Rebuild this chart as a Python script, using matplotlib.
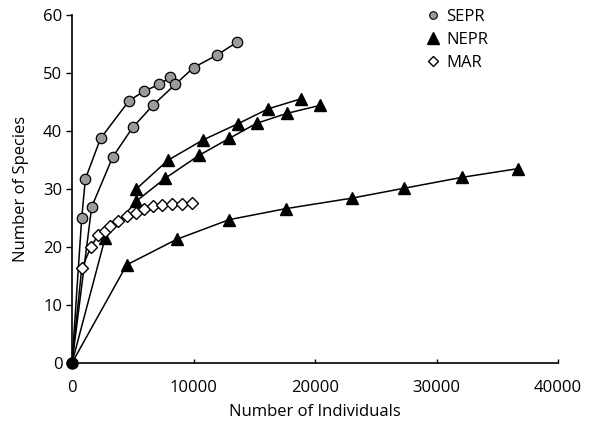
import matplotlib
matplotlib.use("Agg")
import matplotlib.pyplot as plt
from matplotlib.lines import Line2D

plt.rcParams['font.family'] = ['Open Sans', 'DejaVu Sans']

# Rarefaction curves: number of individuals vs. number of species
sepr_a_x = [0, 800, 1100, 2350, 4700, 5900, 7150, 8100]
sepr_a_y = [0, 25.0, 31.7, 38.7, 45.2, 46.8, 48.0, 49.2]
sepr_b_x = [0, 1620, 3350, 5000, 6700, 8500, 10000, 11960, 13580]
sepr_b_y = [0, 26.9, 35.5, 40.6, 44.5, 48.0, 50.9, 53.1, 55.3]

nepr_a_x = [5300, 7870, 10750, 13630, 16150, 18810]
nepr_a_y = [30.0, 34.9, 38.4, 41.2, 43.8, 45.5]
nepr_b_x = [0, 2720, 5300, 7650, 10470, 12940, 15190, 17660, 20410]
nepr_b_y = [0, 21.5, 27.9, 31.8, 35.8, 38.7, 41.3, 43.0, 44.4]
nepr_c_x = [0, 4500, 8610, 12940, 17610, 23020, 27300, 32130, 36740]
nepr_c_y = [0, 16.9, 21.3, 24.7, 26.6, 28.4, 30.1, 32.0, 33.5]

mar_x = [0, 800, 1540, 2160, 2720, 3130, 3810, 4500, 5240, 5930, 6640,
         7380, 8200, 9020, 9850]
mar_y = [0, 16.3, 19.9, 22.1, 22.7, 23.6, 24.5, 25.4, 25.9, 26.6, 27.0,
         27.2, 27.4, 27.4, 27.5]

x_ticks = [0, 10000, 20000, 30000, 40000]
y_ticks = [0, 10, 20, 30, 40, 50, 60]

fig = plt.figure(figsize=(6, 4.24), dpi=100)
ax = fig.add_axes([0.12, 0.144, 0.81, 0.821])

line_kw = dict(color='black', lw=1.1, clip_on=False)
sepr_kw = dict(marker='o', ms=7.5, mfc='#9a9a9a', mec='black', mew=0.9)
nepr_kw = dict(marker='^', ms=9, mfc='black', mec='black')
mar_kw = dict(marker='D', ms=6, mfc='white', mec='black', mew=1.0)

ax.plot(sepr_a_x[1:], sepr_a_y[1:], ls='none', **sepr_kw, clip_on=False, zorder=4)
ax.plot(sepr_a_x, sepr_a_y, **line_kw, zorder=2)
ax.plot(sepr_b_x[1:], sepr_b_y[1:], ls='none', **sepr_kw, clip_on=False, zorder=4)
ax.plot(sepr_b_x, sepr_b_y, **line_kw, zorder=2)

for xs, ys in [(nepr_a_x, nepr_a_y), (nepr_b_x, nepr_b_y), (nepr_c_x, nepr_c_y)]:
    ax.plot(xs, ys, **line_kw, zorder=2)
    start = 1 if xs[0] == 0 else 0
    ax.plot(xs[start:], ys[start:], ls='none', **nepr_kw, clip_on=False, zorder=3)

ax.plot(mar_x, mar_y, **line_kw, zorder=2)
ax.plot(mar_x[1:], mar_y[1:], ls='none', **mar_kw, clip_on=False, zorder=5)

# shared origin point
ax.plot([0], [0], marker='o', ms=8, color='black', clip_on=False, zorder=6)

ax.set_xlim(0, 40000)
ax.set_ylim(0, 60)
ax.set_xticks(x_ticks)
ax.set_yticks(y_ticks)
ax.spines['top'].set_visible(False)
ax.spines['right'].set_visible(False)
ax.spines['left'].set_linewidth(1.2)
ax.spines['bottom'].set_linewidth(1.2)
ax.tick_params(axis='y', direction='out', length=4, width=1, labelsize=12, pad=3)
ax.tick_params(axis='x', direction='in', length=3, width=1, labelsize=12, pad=12)
ax.set_xlabel('Number of Individuals', fontsize=12, labelpad=6)
ax.set_ylabel('Number of Species', fontsize=12, labelpad=10)

handles = [
    Line2D([], [], ls='none', marker='o', ms=5.5, mfc='#9a9a9a', mec='black', mew=0.8),
    Line2D([], [], ls='none', marker='^', ms=8, mfc='black', mec='black'),
    Line2D([], [], ls='none', marker='D', ms=5, mfc='white', mec='black', mew=1.0),
]
leg = ax.legend(handles, ['SEPR', 'NEPR', 'MAR'], loc='upper left',
                bbox_to_anchor=(0.715, 1.035), frameon=False, fontsize=12,
                handlelength=0.8, handletextpad=0.4, labelspacing=0.4,
                borderaxespad=0)

fig.savefig('out.png', dpi=100)
